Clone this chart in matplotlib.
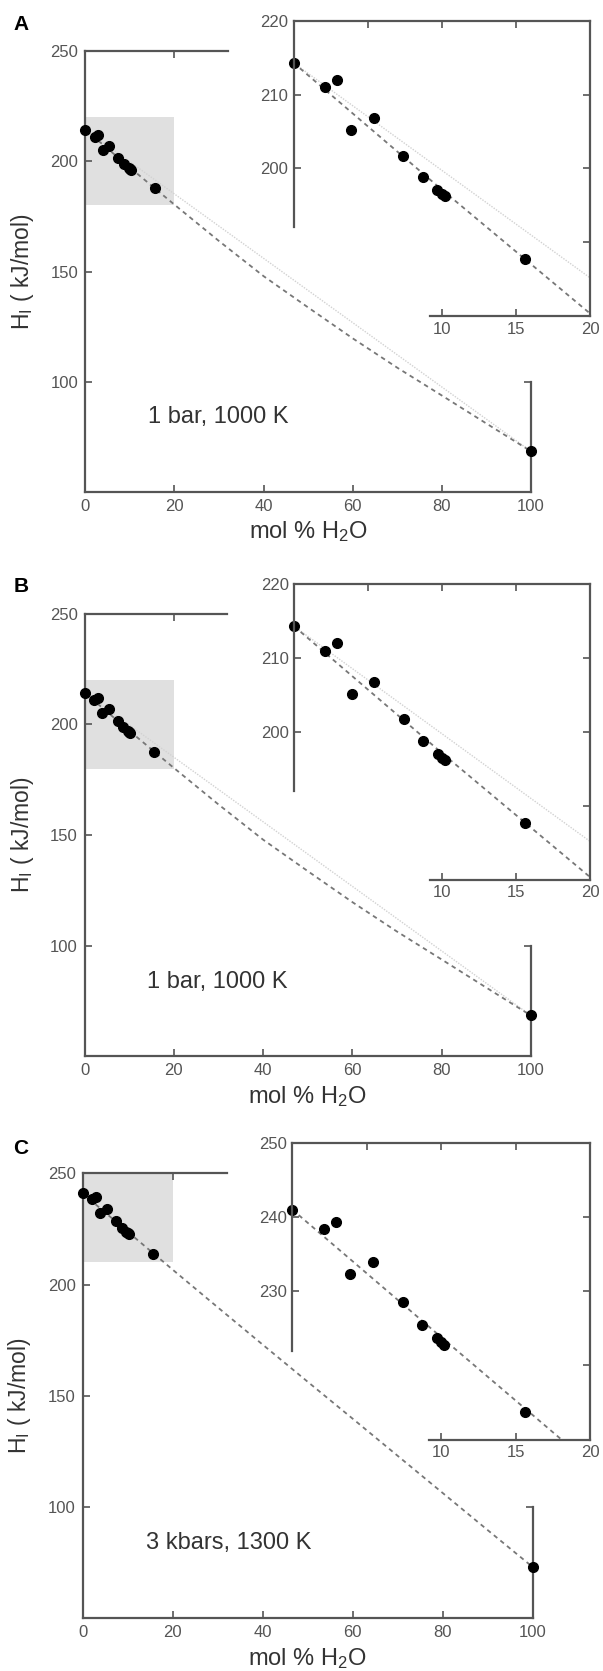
import matplotlib
matplotlib.use("Agg")
import matplotlib.pyplot as plt
from matplotlib.patches import Rectangle

plt.rcParams['font.family'] = ['Liberation Sans', 'DejaVu Sans']
plt.rcParams['mathtext.fontset'] = 'custom'
plt.rcParams['mathtext.rm'] = 'Liberation Sans'
plt.rcParams['mathtext.it'] = 'Liberation Sans:italic'

# mol % H2O of the melts and H_I (kJ/mol)
mol_h2o = [0, 2.1, 2.9, 3.9, 5.4, 7.4, 8.7, 9.7, 10.0, 10.2, 15.6, 100]
hi_1bar = [214.3, 211.0, 212.0, 205.2, 206.8, 201.7, 198.8, 197.0, 196.5, 196.2, 187.7, 68.5]
hi_3kbar = [241.0, 238.4, 239.3, 232.3, 233.9, 228.6, 225.5, 223.7, 223.1, 222.7, 213.7, 73.0]

# fitted curves (dashed)
fit_x = [0, 10, 20, 30, 40, 50, 60, 70, 80, 90, 100]
fit_1bar = [214.3, 197.1, 180.3, 163.8, 147.9, 133.7, 119.7, 106.4, 93.8, 81.1, 68.5]
fit_3kbar = [241.0, 223.8, 206.7, 189.8, 173.0, 156.3, 139.7, 123.0, 106.3, 89.6, 73.0]

main_xticks = [0, 20, 40, 60, 80, 100]
main_yticks = [100, 150, 200, 250]
inset_xticks = [5, 10, 15, 20]
inset_xlabels = ['', '10', '15', '20']

SPINE = '#555555'
TXT = '#333333'
TICKTXT = '#555555'

W, H = 603, 1671
fig = plt.figure(figsize=(W / 100, H / 100), dpi=100)


def rect(left, top, right, bottom):
    return [left / W, 1 - bottom / H, (right - left) / W, (bottom - top) / H]


def draw_panel(main_px, inset_px, letter, letter_y, hi, fit_y, note, box,
               inset_yticks, ideal=True):
    ax = fig.add_axes(rect(*main_px))
    ax.add_patch(Rectangle((0, box[0]), 20, box[1] - box[0],
                           facecolor='#e0e0e0', edgecolor='none', zorder=0))
    if ideal:
        ax.plot([mol_h2o[0], mol_h2o[-1]], [hi[0], hi[-1]], color='#d2d2d2',
                lw=1.0, ls=(0, (1, 1)), zorder=1)
    ax.plot(fit_x, fit_y, color='#777777', lw=1.3, ls=(0, (2.5, 2.2)), zorder=2)
    ax.plot(mol_h2o, hi, 'o', color='black', ms=7, clip_on=False, zorder=3)
    ax.set_xlim(0, 100)
    ax.set_ylim(50, 250)
    ax.set_xticks(main_xticks)
    ax.set_yticks(main_yticks)
    for s in ax.spines.values():
        s.set_color(SPINE)
        s.set_linewidth(1.6)
    ax.spines['top'].set_bounds(0, 32)
    ax.spines['right'].set_bounds(50, 100)
    ax.tick_params(direction='in', length=5, width=1.2, color=SPINE,
                   labelsize=12, labelcolor=TICKTXT, top=True, right=True, pad=5)
    for t, v in zip(ax.xaxis.get_major_ticks(), main_xticks):
        t.tick2line.set_visible(v == 20)
    for t, v in zip(ax.yaxis.get_major_ticks(), main_yticks):
        t.tick2line.set_visible(v == 100)
    ax.set_xlabel('mol % H$_\\mathrm{2}$O', fontsize=17, color=TXT, va='top')
    ax.xaxis.set_label_coords(0.5, -0.062)
    ax.set_ylabel('H$_\\mathrm{I}$ ( kJ/mol)', fontsize=16.5, color=TXT)
    ax.yaxis.set_label_coords(-0.11, 0.5)
    ax.text(14, 83.8, note, fontsize=17, color=TXT, va='center')
    fig.text(21 / W, 1 - letter_y / H, letter, fontsize=15, fontweight='bold',
             ha='center', va='center')

    # zoomed inset on the water-poor end
    ai = fig.add_axes(rect(*inset_px), facecolor='none')
    if ideal:
        ai.plot([mol_h2o[0], mol_h2o[-1]], [hi[0], hi[-1]], color='#d2d2d2',
                lw=1.0, ls=(0, (1, 1)))
    ai.plot(fit_x, fit_y, color='#777777', lw=1.3, ls=(0, (2.5, 2.2)))
    ai.plot(mol_h2o[:-1], hi[:-1], 'o', color='black', ms=7, clip_on=False)
    ai.set_xlim(0, 20)
    ai.set_ylim(box[0], box[1])
    ai.set_xticks(inset_xticks)
    ai.set_xticklabels(inset_xlabels)
    ai.set_yticks(inset_yticks)
    ai.set_yticklabels([''] + [str(v) for v in inset_yticks[1:]])
    for s in ai.spines.values():
        s.set_color(SPINE)
        s.set_linewidth(1.6)
    ai.spines['left'].set_bounds(box[0] + 12, box[1])
    ai.spines['bottom'].set_bounds(9.2, 20)
    ai.tick_params(direction='in', length=5, width=1.2, color=SPINE,
                   labelsize=12, labelcolor=TICKTXT, top=True, right=True, pad=4)
    for t, v in zip(ai.xaxis.get_major_ticks(), inset_xticks):
        t.tick1line.set_visible(v != 5)
        t.tick2line.set_visible(v != 20)
    for t, v in zip(ai.yaxis.get_major_ticks(), inset_yticks):
        t.tick1line.set_visible(v != inset_yticks[0])
        t.tick2line.set_visible(v != inset_yticks[-1])


draw_panel((85.4, 51, 530.8, 492), (293.5, 20.7, 590.4, 316), 'A', 25,
           hi_1bar, fit_1bar, '1 bar, 1000 K', (180, 220), [190, 200, 210, 220])
draw_panel((84.6, 613.6, 530.8, 1056.4), (294.2, 584.3, 590.4, 879.6), 'B', 587,
           hi_1bar, fit_1bar, '1 bar, 1000 K', (180, 220), [190, 200, 210, 220])
draw_panel((82.7, 1173.4, 532.7, 1618.2), (292.3, 1142.8, 590.4, 1439.7), 'C', 1148,
           hi_3kbar, fit_3kbar, '3 kbars, 1300 K', (210, 250), [220, 230, 240, 250],
           ideal=False)

fig.savefig('out.png', dpi=100)
